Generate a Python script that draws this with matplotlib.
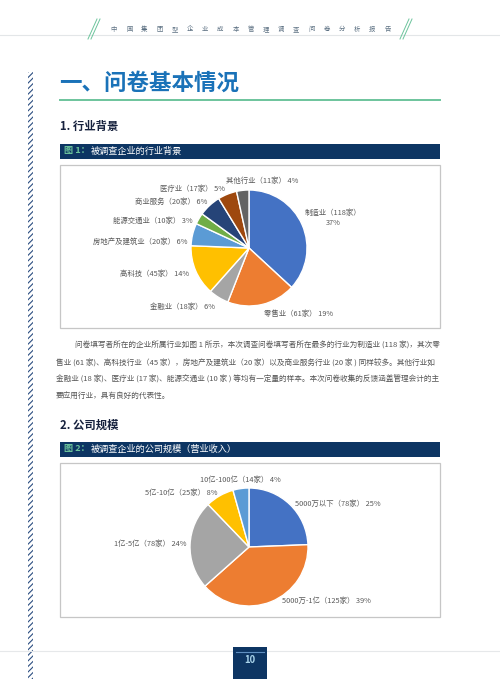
import numpy as np
import matplotlib
matplotlib.use("Agg")
import matplotlib.pyplot as plt
from matplotlib.patches import Rectangle

plt.rcParams['font.family'] = ['Noto Sans CJK SC', 'DejaVu Sans']
plt.rcParams['hatch.linewidth'] = 0.8

# ---- data ----
industry_names = ['制造业', '零售业', '金融业', '高科技', '房地产及建筑业',
                  '能源交通业', '商业服务', '医疗业', '其他行业']
industry_counts = [118, 61, 18, 45, 20, 10, 20, 17, 11]
industry_pcts = [37, 19, 6, 14, 6, 3, 6, 5, 4]

scale_names = ['5000万以下', '5000万-1亿', '1亿-5亿', '5亿-10亿', '10亿-100亿']
scale_counts = [78, 125, 78, 25, 14]
scale_pcts = [25, 39, 24, 8, 4]

header_title = '中国集团型企业成本管理调查问卷分析报告'
paragraph = [
    '问卷填写者所在的企业所属行业如图 1 所示，本次调查问卷填写者所在最多的行业为制造业 (118 家)，其次零',
    '售业 (61 家)、高科技行业（45 家），房地产及建筑业（20 家）以及商业服务行业 (20 家 ) 同样较多。其他行业如',
    '金融业 (18 家)、医疗业 (17 家)、能源交通业 (10 家 ) 等均有一定量的样本。本次问卷收集的反馈涵盖管理会计的主',
    '要应用行业，具有良好的代表性。',
]

office = ['#4472C4', '#ED7D31', '#A5A5A5', '#FFC000', '#5B9BD5',
          '#70AD47', '#264478', '#9E480E', '#636363']
NAVY = '#0d3563'
GREEN = '#6cc49c'
BLUE = '#1a72b8'

fig = plt.figure(figsize=(5, 6.79), dpi=100)
ax = fig.add_axes([0, 0, 1, 1])


def draw_pie(counts, labels, center, radius, nudges):
    # y axis is flipped later, so counterclock + start at -90 reads clockwise from 12 o'clock
    wedges, texts = ax.pie(counts, labels=labels, colors=office[:len(counts)],
                           startangle=-90, counterclock=True, center=center,
                           radius=radius, labeldistance=1.12, frame=True,
                           wedgeprops=dict(edgecolor='white', linewidth=1.0),
                           textprops=dict(fontsize=5.3, color='#595959'))
    for t, (dx, dy, ha) in zip(texts, nudges):
        x, y = t.get_position()
        t.set_ha(ha if ha else ('left' if x >= center[0] else 'right'))
        t.set_position((x + dx, y + dy))
        t.set_va('center')
        t.set_multialignment('center')
    return wedges


# pie 1: industries
lab1 = [f'{n}（{c}家） {p}%' for n, c, p in zip(industry_names, industry_counts, industry_pcts)]
lab1[0] = f'{industry_names[0]}（{industry_counts[0]}家）\n{industry_pcts[0]}%'
nudge1 = [(-4, -4, None), (0, 3, None), (0, 4, None), (0, 1, None), (2, 9, None),
          (0, 6, None), (2, 2, None), (0, 1, None), (20, -2, 'center')]
draw_pie(industry_counts, lab1, (249, 248), 58, nudge1)

# pie 2: company scale
lab2 = [f'{n}（{c}家） {p}%' for n, c, p in zip(scale_names, scale_counts, scale_pcts)]
nudge2 = [(0, 5, None), (8, -7, None), (4, 0, None), (1, 3, None), (0, -2, 'center')]
draw_pie(scale_counts, lab2, (249, 547), 59, nudge2)

ax.set_xlim(0, 500)
ax.set_ylim(679, 0)
ax.set_aspect('auto')
ax.axis('off')

# ---- header ----
ax.plot([0, 500], [35, 35], color='#e3e6e8', lw=0.8)
for x0 in (88, 400):
    for dx in (0, 3):
        ax.plot([x0 + dx, x0 + dx + 9], [39, 19], color=GREEN, lw=0.7)
for i, ch in enumerate(header_title):
    ax.text(114 + i * 15.2, 29, ch, fontsize=4.6, color='#5d7183',
            ha='center', va='center')

# left hatched strip
ax.add_patch(Rectangle((27.5, 72), 5.5, 607, facecolor='white',
                       edgecolor='#2d4f82', hatch='//////', lw=0))

# ---- section title ----
ax.text(59, 83, '一、问卷基本情况', fontsize=16.2, fontweight='bold',
        color=BLUE, ha='left', va='center')
ax.plot([60, 440], [100, 100], color=GREEN, lw=1.4)

ax.text(60, 126, '1. 行业背景', fontsize=8.2, fontweight='bold',
        color='#16213d', ha='left', va='center')


def banner(y0, num, title):
    ax.add_patch(Rectangle((60, y0), 380, 15, facecolor=NAVY, lw=0))
    ax.text(64, y0 + 7.5, f'图 {num}：', fontsize=6.6, color=GREEN,
            fontweight='bold', ha='left', va='center')
    ax.text(91, y0 + 7.5, title, fontsize=6.6, color='white',
            ha='left', va='center')


def chart_box(y0, y1):
    ax.add_patch(Rectangle((60, y0), 380, y1 - y0, facecolor='none',
                           edgecolor='#c6c6c6', lw=0.9))


banner(143.5, 1, '被调查企业的行业背景')
chart_box(165, 328)

# paragraph
line_y = [346, 363, 379, 396]
for i, (line, y) in enumerate(zip(paragraph, line_y)):
    ax.text(75 if i == 0 else 56, y, line, fontsize=5.5, color='#555555',
            ha='left', va='center')

ax.text(60, 425, '2. 公司规模', fontsize=8.2, fontweight='bold',
        color='#16213d', ha='left', va='center')
banner(441.5, 2, '被调查企业的公司规模（营业收入）')
chart_box(463, 617)

# ---- footer ----
ax.plot([0, 500], [651, 651], color='#e6e8ea', lw=0.8)
ax.add_patch(Rectangle((233, 647), 34, 32, facecolor=NAVY, lw=0, zorder=3))
ax.plot([236, 264], [651.5, 651.5], color='#5f8fc0', lw=0.8, zorder=4)
ax.text(250, 660, '10', fontsize=6.8, fontweight='bold', color='#a9d3ea',
        ha='center', va='center', zorder=4)

fig.savefig('out.png', dpi=100, facecolor='white')
